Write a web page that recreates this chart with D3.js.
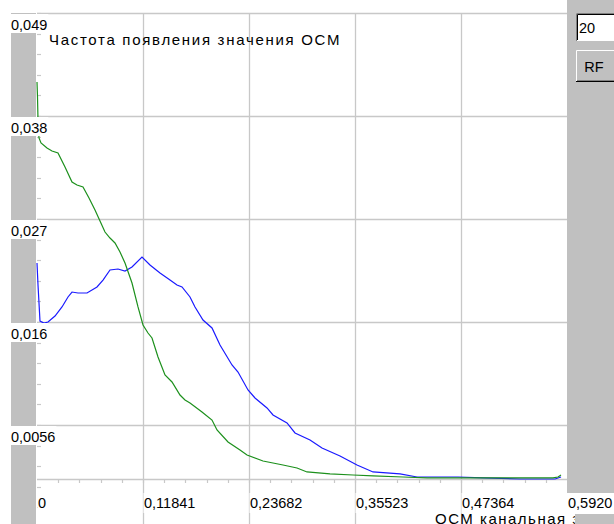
<!DOCTYPE html>
<html>
<head>
<meta charset="utf-8">
<script src="https://cdn.jsdelivr.net/npm/d3@7/dist/d3.min.js"></script>
<style>
  html, body { margin: 0; padding: 0; background: #ffffff; }
  svg { display: block; }
  text { font-family: "Liberation Sans", Arial, sans-serif; }
</style>
</head>
<body>
<svg id="chart" width="614" height="524"></svg>
<script>
// ---- data ----
const chartTitle = "Частота появления значения ОСМ";
const xAxisTitle = "ОСМ канальная значения";

const xTickValues = [0, 0.11841, 0.23682, 0.35523, 0.47364, 0.59205];
const xTickLabels = ["0", "0,11841", "0,23682", "0,35523", "0,47364", "0,5920"];
const yTickValues = [0.049, 0.03817, 0.02734, 0.0165, 0.00567];
const yTickLabels = ["0,049", "0,038", "0,027", "0,016", "0,0056"];

// green series: OSM value / frequency
const greenX = [0, 0.00056, 0.00112, 0.00223, 0.00447, 0.01117, 0.01676, 0.02346, 0.03128, 0.0391,
  0.04468, 0.05139, 0.05809, 0.06479, 0.07038, 0.07596, 0.08155, 0.08713, 0.09272, 0.0983,
  0.10612, 0.11283, 0.11841, 0.124, 0.12847, 0.13517, 0.14299, 0.15081, 0.15974, 0.16533,
  0.17092, 0.18432, 0.19549, 0.20108, 0.21337, 0.22677, 0.23459, 0.25246, 0.26364, 0.27481,
  0.29045, 0.30162, 0.32731, 0.35301, 0.37535, 0.40886, 0.43567, 0.49823, 0.53956, 0.57642,
  0.58201, 0.58536];
const greenY = [0.04174, 0.04017, 0.03775, 0.03586, 0.03533, 0.0348, 0.03449, 0.03428, 0.03281, 0.03123,
  0.03091, 0.0307, 0.02955, 0.02829, 0.02713, 0.02597, 0.02534, 0.02482, 0.02387, 0.02271,
  0.02061, 0.01809, 0.01619, 0.01535, 0.01483, 0.01283, 0.01094, 0.0102, 0.00883, 0.00831,
  0.00799, 0.00705, 0.0062, 0.00515, 0.00389, 0.00305, 0.00252, 0.00189, 0.00168, 0.00147,
  0.00116, 0.00074, 0.00053, 0.00042, 0.00032, 0.00021, 0.00011, 0.00011, 0.00011, 0.00011,
  0.00021, 0.00042];

// blue series: OSM value / frequency
const blueX = [0, 0.00112, 0.00335, 0.00782, 0.01229, 0.02011, 0.02793, 0.03463, 0.0391, 0.0458,
  0.05586, 0.06703, 0.07373, 0.08155, 0.09049, 0.0983, 0.10612, 0.11729, 0.12623, 0.1374,
  0.14857, 0.15639, 0.16198, 0.17092, 0.1765, 0.18544, 0.19549, 0.20443, 0.21783, 0.22454,
  0.23571, 0.24353, 0.25693, 0.26364, 0.27928, 0.28821, 0.30497, 0.31837, 0.33848, 0.35747,
  0.37535, 0.40551, 0.4245, 0.4703, 0.49823, 0.53956, 0.57865, 0.58201, 0.58536];
const blueY = [0.02271, 0.0204, 0.01661, 0.0164, 0.01651, 0.01714, 0.01809, 0.01914, 0.01966, 0.01956,
  0.01956, 0.02019, 0.02092, 0.02198, 0.02208, 0.02187, 0.02229, 0.02334, 0.0225, 0.02166,
  0.02092, 0.0204, 0.02019, 0.01914, 0.01809, 0.01672, 0.01588, 0.01409, 0.01199, 0.01125,
  0.00936, 0.00852, 0.00747, 0.00673, 0.00589, 0.00484, 0.0041, 0.00326, 0.00242, 0.00147,
  0.00074, 0.00053, 0.00021, 0.00021, 0.00011, 0, 0, 0.00011, 0.00021];

const inputValue = "20";
const buttonLabel = "RF";

// ---- layout ----
const W = 614, H = 524;
const plotLeft = 37, plotRight = 567, plotTop = 13, plotBottom = 479;
const gridColor = "#c8c8c8";
const panelColor = "#c0c0c0";
const fontSize = 14.5;

const svg = d3.select("#chart");

const x = d3.scaleLinear().domain([0, xTickValues[xTickValues.length - 1]]).range([plotLeft, plotRight]);
const y = d3.scaleLinear().domain([0, yTickValues[0]]).range([plotBottom, plotTop]);

// left gray strip
svg.append("rect").attr("x", 11).attr("y", plotTop).attr("width", 25).attr("height", H - plotTop)
  .attr("fill", panelColor);

// horizontal grid lines (including top border)
const yGridPx = yTickValues.map(v => y(v));
svg.append("g").selectAll("line").data(yGridPx).join("line")
  .attr("x1", plotLeft).attr("x2", plotRight)
  .attr("y1", d => Math.round(d) + 0.5).attr("y2", d => Math.round(d) + 0.5)
  .attr("stroke", gridColor).attr("stroke-width", 1.3);

// baseline
svg.append("line").attr("x1", plotLeft).attr("x2", plotRight)
  .attr("y1", Math.round(y(0)) + 0.5).attr("y2", Math.round(y(0)) + 0.5)
  .attr("stroke", gridColor).attr("stroke-width", 1.3);

// vertical grid lines, running down past the axis
svg.append("g").selectAll("line").data(xTickValues.slice(1, -1)).join("line")
  .attr("x1", d => Math.round(x(d)) + 0.5).attr("x2", d => Math.round(x(d)) + 0.5)
  .attr("y1", plotTop).attr("y2", H)
  .attr("stroke", gridColor).attr("stroke-width", 1.3);

// minor ticks on the value axis (fifths of a grid step)
const yStep = yTickValues[0] - yTickValues[1];
const yMinor = d3.range(0, 27).map(i => yTickValues[0] - i * yStep / 5);
svg.append("g").selectAll("line").data(yMinor).join("line")
  .attr("x1", plotLeft).attr("x2", plotLeft + 4)
  .attr("y1", d => Math.round(y(d)) + 0.5).attr("y2", d => Math.round(y(d)) + 0.5)
  .attr("stroke", gridColor).attr("stroke-width", 1.2);

// minor ticks on the OSM axis
const xStep = xTickValues[1] - xTickValues[0];
const xMinor = d3.range(1, 25).map(i => i * xStep / 5);
svg.append("g").selectAll("line").data(xMinor).join("line")
  .attr("x1", d => Math.round(x(d)) + 0.5).attr("x2", d => Math.round(x(d)) + 0.5)
  .attr("y1", plotBottom).attr("y2", plotBottom + 4)
  .attr("stroke", gridColor).attr("stroke-width", 1.2);

// series lines
const line = d3.line().x(d => x(d[0])).y(d => y(d[1]));
const blueData = blueX.map((v, i) => [v, blueY[i]]);
const greenData = greenX.map((v, i) => [v, greenY[i]]);
svg.append("path").datum(blueData).attr("d", line)
  .attr("fill", "none").attr("stroke", "#1a1aff").attr("stroke-width", 1.2);
svg.append("path").datum(greenData).attr("d", line)
  .attr("fill", "none").attr("stroke", "#1c901c").attr("stroke-width", 1.2);

// title
svg.append("text").attr("x", 49).attr("y", 45)
  .attr("font-size", 15).attr("letter-spacing", 1.7).attr("fill", "#000").text(chartTitle);

// value-axis labels on white boxes
const yLab = svg.append("g").selectAll("g").data(yTickValues).join("g");
yLab.each(function (d, i) {
  const g = d3.select(this);
  const gy = Math.round(y(d));
  const r = g.append("rect").attr("x", 11).attr("y", gy + 1).attr("height", 19).attr("fill", "#fff");
  const t = g.append("text").attr("x", 11).attr("y", gy + 16.5)
    .attr("font-size", fontSize).attr("fill", "#000").text(yTickLabels[i]);
  r.attr("width", t.node().getComputedTextLength() + 1);
});

// right-hand panel
svg.append("rect").attr("x", plotRight).attr("y", 0).attr("width", W - plotRight).attr("height", 493)
  .attr("fill", panelColor);

// OSM-axis labels on white boxes
const xLab = svg.append("g").selectAll("g").data(xTickValues).join("g");
xLab.each(function (d, i) {
  const g = d3.select(this);
  const gx = Math.round(x(d));
  const r = g.append("rect").attr("x", gx + 0.5).attr("y", 493).attr("height", 20).attr("fill", "#fff");
  const t = g.append("text").attr("x", gx + 1).attr("y", 508)
    .attr("font-size", fontSize).attr("fill", "#000").text(xTickLabels[i]);
  r.attr("width", t.node().getComputedTextLength() + 1);
});

// axis title, partly covered by the lower panel
svg.append("text").attr("x", 435).attr("y", 523.5)
  .attr("font-size", 15).attr("letter-spacing", 1.5).attr("fill", "#000").text(xAxisTitle);
svg.append("rect").attr("x", 575).attr("y", 514).attr("width", W - 575).attr("height", H - 514)
  .attr("fill", panelColor);

// input box
const ib = svg.append("g");
ib.append("rect").attr("x", 576).attr("y", 13).attr("width", 40).attr("height", 28).attr("fill", "#fff");
ib.append("path").attr("d", "M576.5,41 V13.5 H616").attr("fill", "none").attr("stroke", "#808080");
ib.append("path").attr("d", "M577.5,40 V14.5 H616").attr("fill", "none").attr("stroke", "#000");
ib.append("text").attr("x", 579).attr("y", 33).attr("font-size", fontSize).attr("fill", "#000").text(inputValue);

// button
const bt = svg.append("g");
bt.append("rect").attr("x", 576).attr("y", 50).attr("width", 40).attr("height", 32).attr("fill", panelColor);
bt.append("path").attr("d", "M576.5,82 V50.5 H616").attr("fill", "none").attr("stroke", "#fff");
bt.append("path").attr("d", "M576,81.5 H616").attr("fill", "none").attr("stroke", "#000");
bt.append("path").attr("d", "M577,80.5 H616").attr("fill", "none").attr("stroke", "#808080");
bt.append("text").attr("x", 594).attr("y", 72).attr("text-anchor", "middle")
  .attr("font-size", fontSize).attr("fill", "#000").text(buttonLabel);
</script>
</body>
</html>
